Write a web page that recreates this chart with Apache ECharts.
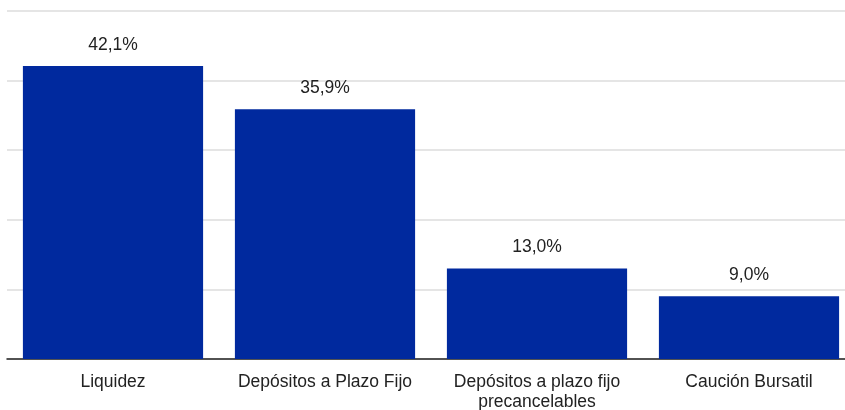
<!DOCTYPE html>
<html>
<head>
<meta charset="utf-8">
<script src="https://cdn.jsdelivr.net/npm/echarts@6/dist/echarts.min.js"></script>
<style>
  html, body { margin: 0; padding: 0; background: #fff; overflow: hidden; }
  #chart { width: 860px; height: 410px; }
</style>
</head>
<body>
<div id="chart"></div>
<script>
// datos
var categorias = ['Liquidez', 'Depósitos a Plazo Fijo', 'Depósitos a plazo fijo\nprecancelables', 'Caución Bursatil'];
var valores = [42.1, 35.9, 13.0, 9.0];

var chart = echarts.init(document.getElementById('chart'));
var option = {
    animation: false,
    grid: { left: 7, top: 11, width: 848, height: 348, containLabel: false, outerBoundsMode: 'none' },
    xAxis: {
        type: 'category',
        data: categorias,
        axisTick: { show: false },
        axisLine: { lineStyle: { color: '#222', width: 1.5 } },
        axisLabel: {
            color: '#222', fontSize: 17.5, fontFamily: 'Liberation Sans, Arial, sans-serif',
            margin: 13, lineHeight: 20, interval: 0
        }
    },
    yAxis: {
        type: 'value',
        min: 0, max: 50, interval: 10,
        axisLabel: { show: false },
        axisLine: { show: false },
        axisTick: { show: false },
        splitLine: { lineStyle: { color: '#dcdcdc', width: 1.5 } }
    },
    series: [{
        type: 'bar',
        data: valores,
        barCategoryGap: '15%',
        itemStyle: { color: '#00299e' },
        label: {
            show: true, position: 'top', distance: 12,
            color: '#222', fontSize: 17.5, fontFamily: 'Liberation Sans, Arial, sans-serif',
            formatter: function (p) { return p.value.toFixed(1).replace('.', ',') + '%'; }
        }
    }]
};
chart.setOption(option);
</script>
</body>
</html>
